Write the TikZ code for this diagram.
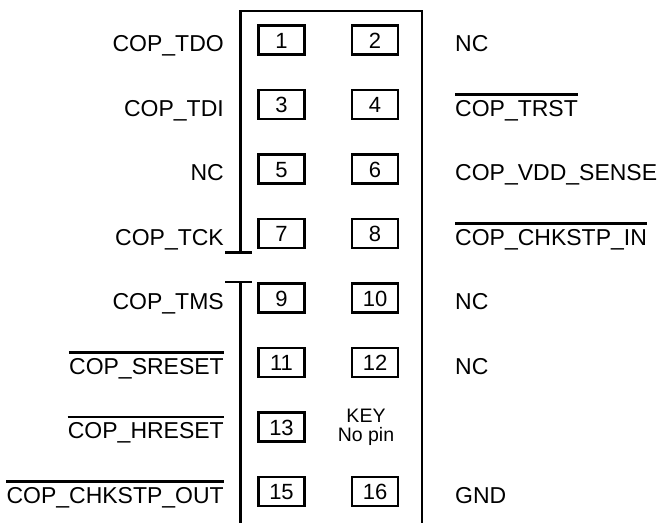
\documentclass[tikz,border=0pt]{standalone}
\usepackage{fontspec}
\setmainfont{Liberation Sans}
\begin{document}
\begin{tikzpicture}[x=1pt,y=-1pt,
  pinbox/.style={draw, line width=2.4pt, minimum width=46pt, minimum height=29pt, inner sep=0pt,
    text height=16pt, text depth=0pt, font=\fontsize{22}{22}\selectfont},
  lbl/.style={inner sep=0pt, text height=16.5pt, text depth=0pt, font=\fontsize{23}{23}\selectfont},
  llbl/.style={lbl, anchor=east},
  rlbl/.style={lbl, anchor=west},
  wall/.style={line width=2.8pt},
  bar/.style={line width=2.2pt}]
\useasboundingbox (0,0) rectangle (664,523);
% polarisation notch
\coordinate (n1) at (240.5,252.5);
\coordinate (n2) at (240.5,282);
% header outline
\draw[wall] (n1) -- (240.5,11) -- (422,11) -- (422,523);
\draw[wall] (n2) -- (240.5,523);
\draw[bar] ([xshift=-15.5pt]n1) -- ([xshift=11.5pt]n1);
\draw[bar] ([xshift=-15.5pt]n2) -- ([xshift=11.5pt]n2);
% pins
\node[pinbox] (p1)  at (281.5,40)    {1};
\node[pinbox] (p2)  at (375,40)      {2};
\node[pinbox] (p3)  at (281.5,104.5) {3};
\node[pinbox] (p4)  at (375,104.5)   {4};
\node[pinbox] (p5)  at (281.5,169)   {5};
\node[pinbox] (p6)  at (375,169)     {6};
\node[pinbox] (p7)  at (281.5,233.5) {7};
\node[pinbox] (p8)  at (375,233.5)   {8};
\node[pinbox] (p9)  at (281.5,298)   {9};
\node[pinbox] (p10) at (375,298)     {10};
\node[pinbox] (p11) at (281.5,362.5) {11};
\node[pinbox] (p12) at (375,362.5)   {12};
\node[pinbox] (p13) at (281.5,427)   {13};
\node[pinbox] (p15) at (281.5,491.5) {15};
\node[pinbox] (p16) at (375,491.5)   {16};
\node[align=center, inner sep=0pt, font=\fontsize{19.5}{19}\selectfont] (key) at (366,427) {KEY\\No pin};
% left labels
\node[llbl] (l1)  at (224,43.5)  {COP\_TDO};
\node[llbl] (l3)  at (224,108)   {COP\_TDI};
\node[llbl] (l5)  at (224,172.5) {NC};
\node[llbl] (l7)  at (224,237)   {COP\_TCK};
\node[llbl] (l9)  at (224,301.5) {COP\_TMS};
\node[llbl] (l11) at (224,366)   {COP\_SRESET};
\node[llbl] (l13) at (224,430.5) {COP\_HRESET};
\node[llbl] (l15) at (224,495)   {COP\_CHKSTP\_OUT};
% right labels
\node[rlbl] (r2)  at (455,43.5)  {NC};
\node[rlbl] (r4)  at (455,108)   {COP\_TRST};
\node[rlbl] (r6)  at (455,172.5) {COP\_VDD\_SENSE};
\node[rlbl] (r8)  at (455,237)   {COP\_CHKSTP\_IN};
\node[rlbl] (r10) at (455,301.5) {NC};
\node[rlbl] (r12) at (455,366)   {NC};
\node[rlbl] (r16) at (455,495)   {GND};
% overlines (active-low signals)
\foreach \n in {r4,r8,l11,l13,l15}
  \draw[bar] ([yshift=5pt]\n.north west) -- ([yshift=5pt]\n.north east);
\end{tikzpicture}
\end{document}
